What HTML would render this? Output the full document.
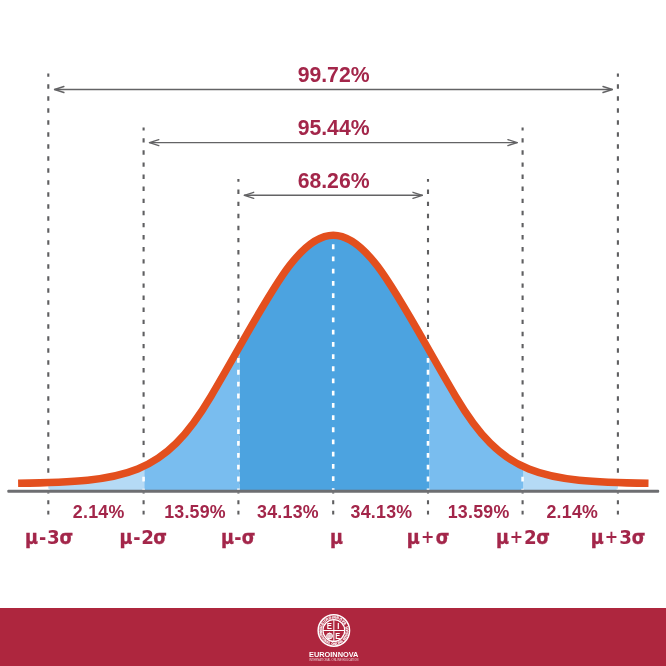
<!DOCTYPE html>
<html lang="es">
<head>
<meta charset="utf-8">
<title>Distribución normal</title>
<style>
html,body{margin:0;padding:0;background:#fff;}
body{width:666px;height:666px;overflow:hidden;}
svg{display:block;will-change:transform;}
</style>
</head>
<body>
<svg width="666" height="666" viewBox="0 0 666 666" role="img" aria-label="Distribución normal">
<rect width="666" height="666" fill="#fff"/>
<g stroke="#5f5f61" stroke-width="2.1" fill="none">
<line x1="48.3" y1="73.5" x2="48.3" y2="490" stroke-dasharray="4.4 7.60" stroke-dashoffset="1.20"/>
<line x1="617.9" y1="73.5" x2="617.9" y2="490" stroke-dasharray="4.4 7.60" stroke-dashoffset="1.20"/>
<line x1="143.6" y1="127.6" x2="143.6" y2="490" stroke-dasharray="4.4 7.70" stroke-dashoffset="1.50"/>
<line x1="522.6" y1="127.6" x2="522.6" y2="490" stroke-dasharray="4.4 7.70" stroke-dashoffset="1.50"/>
<line x1="238.4" y1="178.9" x2="238.4" y2="490" stroke-dasharray="4.4 7.69" stroke-dashoffset="1.44"/>
<line x1="428.0" y1="178.9" x2="428.0" y2="490" stroke-dasharray="4.4 7.69" stroke-dashoffset="1.44"/>
</g>
<clipPath id="fc"><path d="M18.10 483.29C126.91 481.77 163.98 475.76 210.95 396.36C265.24 304.58 295.71 235.25 333.30 235.25C370.89 235.25 401.36 304.58 455.65 396.36C502.62 475.76 539.69 481.77 648.50 483.29L648.50 491.2L18.10 491.2Z"/></clipPath>
<g clip-path="url(#fc)">
<rect x="48.3" y="225" width="96.0" height="266.2" fill="#b5daf5"/>
<rect x="523.3" y="225" width="94.6" height="266.2" fill="#b5daf5"/>
<rect x="144.3" y="225" width="95.3" height="266.2" fill="#79bdef"/>
<rect x="429.2" y="225" width="94.1" height="266.2" fill="#79bdef"/>
<rect x="239.6" y="225" width="189.6" height="266.2" fill="#4ca3e0"/>
<g stroke="#fff" stroke-width="2.6" fill="none">
<line x1="48.3" y1="200" x2="48.3" y2="491.2" stroke-dasharray="4.8 7.20" stroke-dashoffset="11.20"/>
<line x1="617.9" y1="200" x2="617.9" y2="491.2" stroke-dasharray="4.8 7.20" stroke-dashoffset="11.20"/>
<line x1="143.6" y1="200" x2="143.6" y2="491.2" stroke-dasharray="4.8 7.20" stroke-dashoffset="11.20"/>
<line x1="522.6" y1="200" x2="522.6" y2="491.2" stroke-dasharray="4.8 7.20" stroke-dashoffset="11.20"/>
<line x1="238.4" y1="200" x2="238.4" y2="491.2" stroke-dasharray="4.8 7.06" stroke-dashoffset="8.04"/>
<line x1="428.0" y1="200" x2="428.0" y2="491.2" stroke-dasharray="4.8 7.06" stroke-dashoffset="8.04"/>
<line x1="333.2" y1="200" x2="333.2" y2="491.2" stroke-dasharray="4.8 7.40" stroke-dashoffset="4.45"/>
</g>
</g>
<rect x="7.3" y="489.65" width="651.9" height="3.1" rx="1.1" fill="#6d6e71"/>
<rect x="47.25" y="492.3" width="2.1" height="1.3" fill="#6d6e71"/>
<rect x="142.55" y="492.3" width="2.1" height="1.3" fill="#6d6e71"/>
<rect x="237.35" y="492.3" width="2.1" height="1.3" fill="#6d6e71"/>
<rect x="332.15" y="492.3" width="2.1" height="1.3" fill="#6d6e71"/>
<rect x="426.95" y="492.3" width="2.1" height="1.3" fill="#6d6e71"/>
<rect x="521.55" y="492.3" width="2.1" height="1.3" fill="#6d6e71"/>
<rect x="616.85" y="492.3" width="2.1" height="1.3" fill="#6d6e71"/>
<path d="M18.10 483.29C126.91 481.77 163.98 475.76 210.95 396.36C265.24 304.58 295.71 235.25 333.30 235.25C370.89 235.25 401.36 304.58 455.65 396.36C502.62 475.76 539.69 481.77 648.50 483.29" fill="none" stroke="#e34f1e" stroke-width="7.4" stroke-linejoin="round"/>
<g stroke="#5f5f61" stroke-width="2.1" stroke-dasharray="3.9 6.5">
<line x1="48.3" y1="500.3" x2="48.3" y2="514.7"/>
<line x1="143.6" y1="500.3" x2="143.6" y2="514.7"/>
<line x1="238.4" y1="500.3" x2="238.4" y2="514.7"/>
<line x1="333.2" y1="500.3" x2="333.2" y2="514.7"/>
<line x1="428.0" y1="500.3" x2="428.0" y2="514.7"/>
<line x1="522.6" y1="500.3" x2="522.6" y2="514.7"/>
<line x1="617.9" y1="500.3" x2="617.9" y2="514.7"/>
</g>
<g fill="none" stroke="#636365" stroke-width="1.4" stroke-linecap="round" stroke-linejoin="round"><line x1="54.6" y1="89.5" x2="612.3" y2="89.5"/><polyline points="63.9,86.5 54.6,89.5 63.9,92.5"/><polyline points="603.0,86.5 612.3,89.5 603.0,92.5"/></g>
<g fill="none" stroke="#636365" stroke-width="1.4" stroke-linecap="round" stroke-linejoin="round"><line x1="149.5" y1="142.6" x2="517.2" y2="142.6"/><polyline points="158.8,139.6 149.5,142.6 158.8,145.6"/><polyline points="507.9,139.6 517.2,142.6 507.9,145.6"/></g>
<g fill="none" stroke="#636365" stroke-width="1.4" stroke-linecap="round" stroke-linejoin="round"><line x1="244.4" y1="195.3" x2="422.3" y2="195.3"/><polyline points="253.7,192.3 244.4,195.3 253.7,198.3"/><polyline points="413.0,192.3 422.3,195.3 413.0,198.3"/></g>
<g font-family="'Liberation Sans',Arial,sans-serif" font-weight="700" font-size="21.2" fill="#a3264a" text-anchor="middle">
<text x="333.6" y="82.3">99.72%</text>
<text x="333.6" y="135.0">95.44%</text>
<text x="333.6" y="187.6">68.26%</text>
</g>
<g font-family="'Liberation Sans',Arial,sans-serif" font-weight="700" font-size="17.8" letter-spacing="0.25" fill="#a3264a">
<text x="72.83" y="517.6">2.14%</text>
<text x="164.13" y="517.6">13.59%</text>
<text x="257.04" y="517.6">34.13%</text>
<text x="350.54" y="517.6">34.13%</text>
<text x="447.73" y="517.6">13.59%</text>
<text x="546.43" y="517.6">2.14%</text>
</g>
<g font-family="'DejaVu Sans Condensed','DejaVu Sans',sans-serif" font-weight="700" font-size="19.5" fill="#a3264a">
<text><tspan x="24.90" y="544.1" stroke="#a3264a" stroke-width="0.35">μ</tspan><tspan x="38.98" y="544.1">-</tspan><tspan x="47.06" y="544.1" font-size="20.3">3</tspan><tspan x="59.45" y="544.1" stroke="#a3264a" stroke-width="0.35">σ</tspan></text>
<text><tspan x="119.50" y="544.1" stroke="#a3264a" stroke-width="0.35">μ</tspan><tspan x="133.31" y="544.1">-</tspan><tspan x="141.13" y="544.1" font-size="20.3">2</tspan><tspan x="153.25" y="544.1" stroke="#a3264a" stroke-width="0.35">σ</tspan></text>
<text><tspan x="221.00" y="544.1" stroke="#a3264a" stroke-width="0.35">μ</tspan><tspan x="234.37" y="544.1">-</tspan><tspan x="241.75" y="544.1" stroke="#a3264a" stroke-width="0.35">σ</tspan></text>
<text><tspan x="329.97" y="544.1" stroke="#a3264a" stroke-width="0.35">μ</tspan></text>
<text><tspan x="406.80" y="544.1" stroke="#a3264a" stroke-width="0.35">μ</tspan><tspan x="420.99" y="543.1" font-size="17.7">+</tspan><tspan x="435.65" y="544.1" stroke="#a3264a" stroke-width="0.35">σ</tspan></text>
<text><tspan x="495.90" y="544.1" stroke="#a3264a" stroke-width="0.35">μ</tspan><tspan x="509.65" y="543.1" font-size="17.7">+</tspan><tspan x="523.88" y="544.1" font-size="20.3">2</tspan><tspan x="536.15" y="544.1" stroke="#a3264a" stroke-width="0.35">σ</tspan></text>
<text><tspan x="590.70" y="544.1" stroke="#a3264a" stroke-width="0.35">μ</tspan><tspan x="604.72" y="543.1" font-size="17.7">+</tspan><tspan x="619.21" y="544.1" font-size="20.3">3</tspan><tspan x="631.75" y="544.1" stroke="#a3264a" stroke-width="0.35">σ</tspan></text>
</g>
<rect x="0" y="608" width="666" height="58" fill="#ae263e"/>
<g transform="translate(333.85,630.5)"><g fill="none" stroke="#fff"><circle r="15.7" stroke-width="1.5"/><circle r="10.9" stroke-width="1.2"/><line x1="0" y1="-10.9" x2="0" y2="10.9" stroke-width="1"/><line x1="-10.9" y1="0" x2="10.9" y2="0" stroke-width="1"/><circle cx="-4.3" cy="5.5" r="2.9" stroke-width="1" fill="#fff" fill-opacity="0.3"/><line x1="-7.2" y1="5.5" x2="-1.4" y2="5.5" stroke-width="0.6"/><line x1="-4.3" y1="2.6" x2="-4.3" y2="8.4" stroke-width="0.6"/><ellipse cx="-4.3" cy="5.5" rx="1.4" ry="2.9" stroke-width="0.6"/></g><g fill="#fff" font-family="'Liberation Sans',Arial,sans-serif" font-weight="700"><text transform="translate(-4.5,-1.1) scale(0.9,1)" font-size="8.6" text-anchor="middle">E</text><text transform="translate(4.5,-1.1) scale(0.9,1)" font-size="8.6" text-anchor="middle">I</text><text transform="translate(3.8,8.6) scale(0.9,1)" font-size="8.2" text-anchor="middle">E</text><path id="rt" d="M-12 0A12 12 0 0 1 12 0" fill="none"/><path id="rb" d="M-13.35 -5.39A14.4 14.4 0 1 0 13.35 -5.39" fill="none"/><text font-size="3.6" letter-spacing="0.3" stroke="#fff" stroke-width="0.15"><textPath href="#rt" startOffset="50%" text-anchor="middle">EUROINNOVA</textPath></text><text font-size="3.3" letter-spacing="0.1" stroke="#fff" stroke-width="0.15"><textPath href="#rb" startOffset="50%" text-anchor="middle">INTERNATIONAL ONLINE EDUCATION</textPath></text></g></g>
<text x="333.7" y="656.9" text-anchor="middle" font-family="'Liberation Sans',Arial,sans-serif" font-weight="700" font-size="7.5" textLength="49.4" lengthAdjust="spacingAndGlyphs" fill="#fff">EUROINNOVA</text>
<text x="333.7" y="660.5" text-anchor="middle" font-family="'Liberation Sans',Arial,sans-serif" font-size="2.6" textLength="49.2" lengthAdjust="spacing" fill="#fff" opacity="0.8">INTERNATIONAL ONLINE EDUCATION</text>
</svg>
</body>
</html>
